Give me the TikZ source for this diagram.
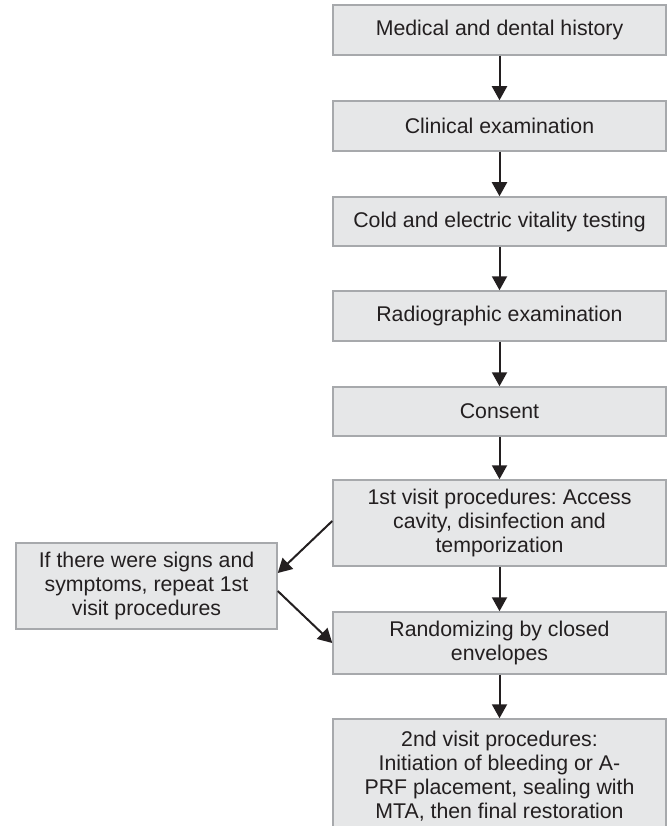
\documentclass[tikz,border=0pt]{standalone}
\usepackage{fontspec}
\setmainfont{Liberation Sans}
\usetikzlibrary{arrows.meta}
\definecolor{boxfill}{HTML}{E6E7E8}
\definecolor{boxline}{HTML}{A7A9AC}
\definecolor{ink}{HTML}{231F20}
\begin{document}
\frenchspacing
\begin{tikzpicture}[x=1pt,y=-1pt,
  box/.style={draw=boxline, line width=1.5pt, fill=boxfill, text=ink, align=center,
    inner sep=0pt, font=\fontsize{21.3}{23.8}\selectfont, minimum width=333pt},
  arr/.style={-{Triangle[length=14pt,width=15pt]}, line width=2pt, draw=ink}]
\useasboundingbox (0,0) rectangle (668,826);
\clip (0,0) rectangle (668,826);
\node[box, minimum height=50pt] (b1) at (499.5,30) {Medical and dental history};
\node[box, minimum height=50pt] (b2) at (499.5,126) {Clinical examination};
\node[box, minimum height=49pt] (b3) at (499.5,221.5) {Cold and electric vitality testing};
\node[box, minimum height=50pt] (b4) at (499.5,316) {Radiographic examination};
\node[box, minimum height=49pt] (b5) at (499.5,411.5) {Consent};
\node[box, minimum height=86pt] (b6) at (499.5,523) {1st visit procedures: Access\\cavity, disinfection and\\temporization};
\node[box, minimum height=62pt] (b7) at (499.5,643) {Randomizing by closed\\envelopes};
\node[box, minimum height=114pt] (b8) at (499.5,776) {2nd visit procedures:\\Initiation of bleeding or A-\\PRF placement, sealing with\\MTA, then final restoration};
\node[box, minimum width=261pt, minimum height=86pt] (L) at (146.5,586) {If there were signs and\\symptoms, repeat 1st\\visit procedures};
\draw[arr] (b1) -- (b2);
\draw[arr] (b2) -- (b3);
\draw[arr] (b3) -- (b4);
\draw[arr] (b4) -- (b5);
\draw[arr] (b5) -- (b6);
\draw[arr] (b6) -- (b7);
\draw[arr] (b7) -- (b8);
\draw[arr] ([yshift=2pt]b6.west) -- ([yshift=13pt]L.east);
\draw[arr] ([yshift=-5pt]L.east) -- (b7.west);
\end{tikzpicture}
\end{document}
